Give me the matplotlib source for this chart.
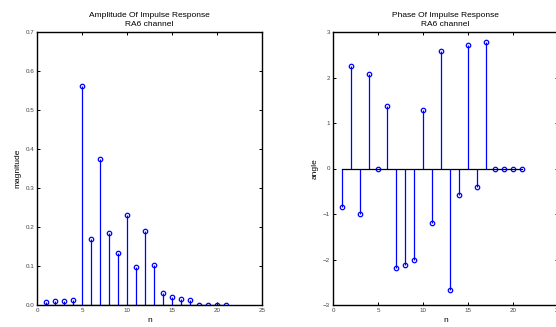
import matplotlib
matplotlib.use("Agg")
import matplotlib.pyplot as plt
import numpy as np

n = list(range(1, 22))
magnitude = [0.007, 0.009, 0.010, 0.013, 0.561, 0.168, 0.375, 0.184, 0.133, 0.231,
             0.097, 0.190, 0.102, 0.031, 0.020, 0.015, 0.013, 0.0, 0.0, 0.0, 0.0]
angle = [-0.85, 2.25, -1.0, 2.08, 0.0, 1.375, -2.18, -2.12, -2.0, 1.28,
         -1.19, 2.59, -2.66, -0.58, 2.71, -0.41, 2.78, 0.0, 0.0, 0.0, 0.0]

titles = ["Amplitude Of Impulse Response\nRA6 channel",
          "Phase Of Impulse Response\nRA6 channel"]
ylabels = ["magnitude", "angle"]
xticks = [0, 5, 10, 15, 20, 25]
yticks_left = [0, 0.1, 0.2, 0.3, 0.4, 0.5, 0.6, 0.7]
yticks_right = [-3, -2, -1, 0, 1, 2, 3]

plt.rcParams['font.family'] = ['Liberation Sans', 'DejaVu Sans']

W, H = 556, 327
fig = plt.figure(figsize=(W / 100, H / 100), dpi=100)
ax1 = fig.add_axes([37 / W, 22 / H, 225 / W, 273 / H])
ax2 = fig.add_axes([333 / W, 22 / H, 225 / W, 273 / H])

blue = '#0000ff'
for ax, vals, title, yl, yt, ylim in [
    (ax1, magnitude, titles[0], ylabels[0], yticks_left, (0, 0.7)),
    (ax2, angle, titles[1], ylabels[1], yticks_right, (-3, 3)),
]:
    ml, sl, bl = ax.stem(n, vals, basefmt='k-')
    plt.setp(sl, color=blue, linewidth=0.9)
    plt.setp(ml, color=blue, marker='o', markerfacecolor='none',
             markersize=3.2, markeredgewidth=0.9)
    plt.setp(bl, color='black', linewidth=0.9)
    ax.set_xlim(0, 25)
    ax.set_ylim(*ylim)
    ax.set_xticks(xticks)
    ax.set_yticks(yt)
    ax.tick_params(direction='in', length=2.5, width=0.7, labelsize=4.5,
                   top=True, right=True, pad=2, labelcolor='#444444')
    for s in ax.spines.values():
        s.set_linewidth(1.0)
    ax.set_title(title, fontsize=6, pad=4, linespacing=1.45)
    ax.set_xlabel('n', fontsize=6, labelpad=3)
    ax.set_ylabel(yl, fontsize=6, labelpad=3)

fig.savefig('out.png', dpi=100)
